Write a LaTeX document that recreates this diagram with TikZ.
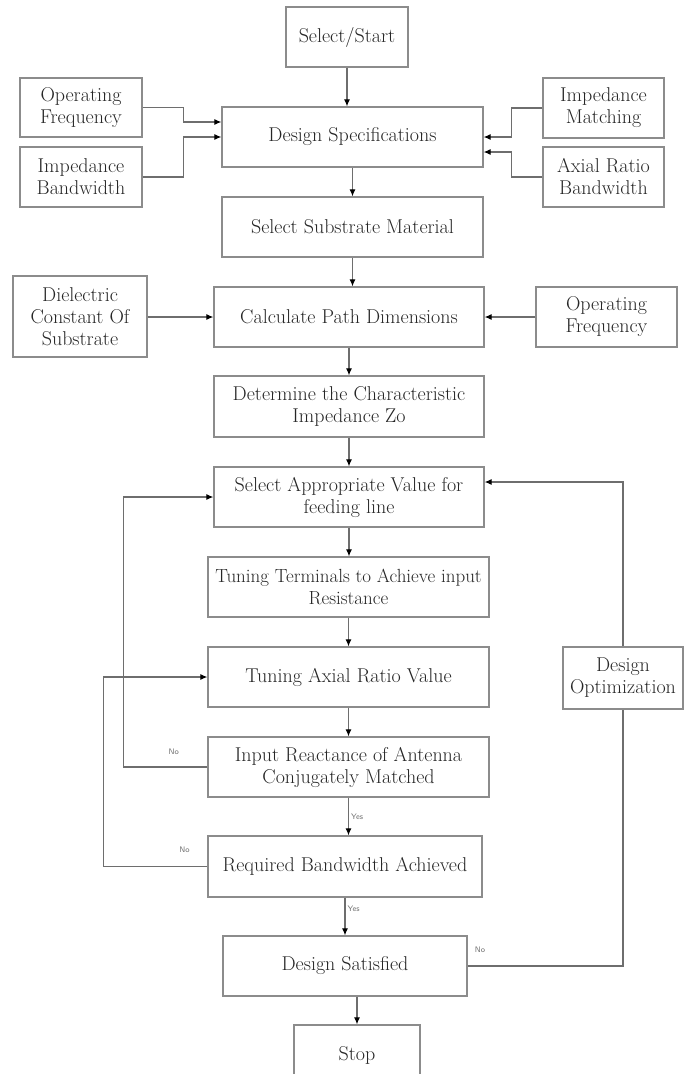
\documentclass[tikz,border=0pt]{standalone}
\usepackage{tikz}
\usetikzlibrary{arrows.meta}
\definecolor{boxline}{HTML}{8C8C8C}
\definecolor{wire}{HTML}{6E6E6E}
\definecolor{ink}{HTML}{262626}

\begin{document}
\begin{tikzpicture}[x=1pt, y=-1pt,
  blk/.style={draw=boxline, line width=1.3pt, inner sep=1pt, align=center,
    text=ink, font=\fontsize{20}{22}\selectfont},
  sz/.style 2 args={minimum width=#1pt, minimum height=#2pt},
  arr/.style={draw=wire, line width=1.1pt, -{Latex[length=7pt,width=6pt,color=black]}},
  wire/.style={draw=wire, line width=1.1pt},
  lbl/.style={font=\sffamily\fontsize{8}{9}\selectfont, text=black!55, inner sep=0pt}]

  \useasboundingbox[fill=white] (0,0) rectangle (689,1074);

  %% top part
  \node[blk, sz={122}{60}] (start) at (347,37) {Select/Start};
  \node[blk, sz={122}{59}] (opfl) at (81,107.5) {Operating\\Frequency};
  \node[blk, sz={122}{60}] (imbw) at (81,177) {Impedance\\Bandwidth};
  \node[blk, sz={261}{60}] (spec) at (352.5,137) {Design Specifications};
  \node[blk, sz={121}{60}] (imm) at (603.5,108) {Impedance\\Matching};
  \node[blk, sz={121}{60}] (arbw) at (603.5,177) {Axial Ratio\\Bandwidth};
  \node[blk, sz={261}{60}] (subs) at (352.5,227) {Select Substrate Material};

  \node[blk, sz={134}{81}] (diel) at (80,316.5) {Dielectric\\Constant Of\\Substrate};
  \node[blk, sz={270}{60}] (calc) at (349,317) {Calculate Path Dimensions};
  \node[blk, sz={141}{60}] (opfr) at (606.5,317) {Operating\\Frequency};
  \node[blk, sz={270}{61}] (zo) at (349,406.5) {Determine the Characteristic\\Impedance Zo};

  %% main column
  \node[blk, sz={270}{60}] (feed) at (349,497) {Select Appropriate Value for\\feeding line};
  \node[blk, sz={281}{60}, font=\fontsize{19}{22}\selectfont] (tt) at (348.5,587)
    {Tuning Terminals to Achieve input\\Resistance};
  \node[blk, sz={281}{60}] (tav) at (348.5,677) {Tuning Axial Ratio Value};
  \node[blk, sz={281}{60}] (irc) at (348.5,767) {Input Reactance of Antenna\\Conjugately Matched};
  \node[blk, sz={274}{61}] (rbw) at (345,866.5) {Required Bandwidth Achieved};
  \node[blk, sz={244}{60}] (dsat) at (345,966) {Design Satisfied};
  \node[blk, sz={126}{60}] (stop) at (357,1055) {Stop};
  \node[blk, sz={120}{62}] (dopt) at (623,678) {Design\\Optimization};

  %% inputs of the specification
  \draw[arr] (start.south) -- (start.south |- spec.north);
  \draw[arr] (opfl.east) -- ++(41,0) |- ([yshift=15pt]spec.west);
  \draw[arr] (imbw.east) -- ++(41,0) |- (spec.west);
  \draw[arr] (imm.west) -- ++(-31,0) |- (spec.east);
  \draw[arr] (arbw.west) -- ++(-31,0) |- ([yshift=-15pt]spec.east);
  \draw[arr] (spec.south) -- (spec.south |- subs.north);
  \draw[arr] (subs.south) -- (subs.south |- calc.north);
  \draw[arr] (diel.east |- calc.west) -- (calc.west);
  \draw[arr] (opfr.west) -- (calc.east);

  %% down the column
  \draw[arr] (calc.south) -- (zo.north);
  \draw[arr] (zo.south) -- (feed.north);
  \draw[arr] (feed.south) -- (feed.south |- tt.north);
  \draw[arr] (tt.south) -- (tav.north);
  \draw[arr] (tav.south) -- (irc.north);
  \draw[arr] (irc.south) -- node[lbl, right=2pt, pos=0.5]{Yes} (irc.south |- rbw.north);
  \draw[arr] (rbw.south) -- node[lbl, right=2pt, pos=0.3]{Yes} (dsat.north);
  \draw[arr] (dsat.south -| stop.north) -- (stop.north);

  %% feedback loops
  \draw[arr] (irc.west) -- node[lbl, pos=0.4, above=12pt]{No} ++(-84,0) |- (feed.west);
  \draw[arr] (rbw.west) -- node[lbl, pos=0.22, above=13pt]{No} ++(-104,0) |- (tav.west);
  \draw[wire] (dsat.east) -- node[lbl, pos=0.08, above=13pt]{No} (dsat.east -| dopt.south) -- (dopt.south);
  \draw[arr] (dopt.north) |- ([yshift=15pt]feed.east);
\end{tikzpicture}
\end{document}
